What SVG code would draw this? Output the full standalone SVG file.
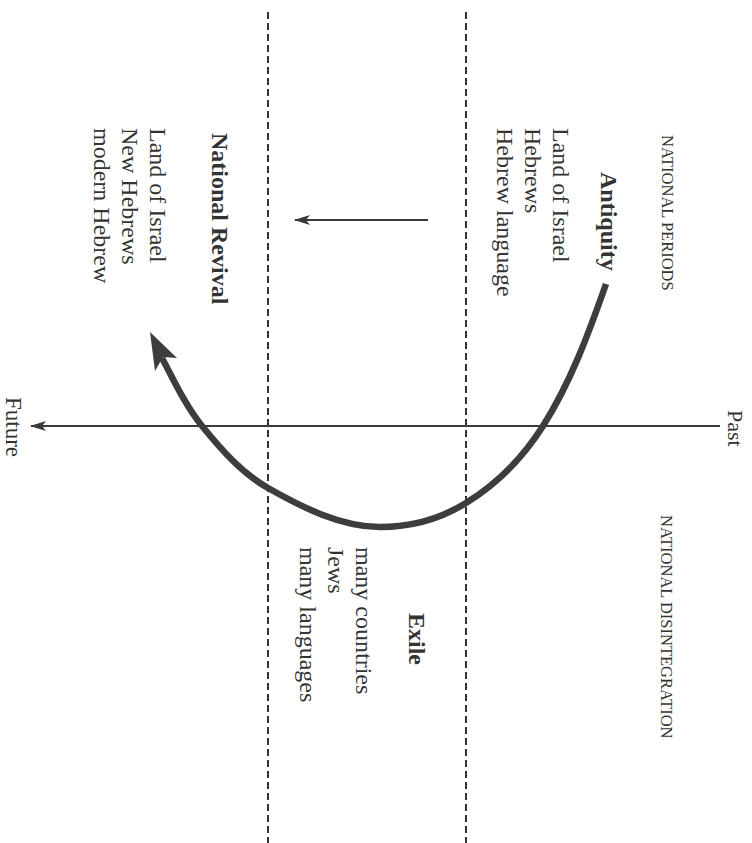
<svg xmlns="http://www.w3.org/2000/svg" width="752" height="843" viewBox="0 0 752 843">
<style>
text{font-family:"Liberation Serif","Times New Roman",serif;fill:#333}
.t{font-size:24px}
.b{font-size:24px;font-weight:bold}
.c{font-size:16.5px}
.dash{stroke:#333;stroke-width:2;stroke-dasharray:7 4;fill:none}
.ln{stroke:#3a3a3a;stroke-width:2.2;fill:none}
</style>
<defs>
<marker id="barb" viewBox="0 0 16 10" refX="15" refY="5" markerWidth="16" markerHeight="10" markerUnits="userSpaceOnUse" orient="auto">
<path d="M0,0 L16,5 L0,10 L4,5 Z" fill="#3a3a3a"/>
</marker>
</defs>
<rect width="752" height="843" fill="#fff"/>
<g id="dividers">
<line class="dash" x1="268" y1="12" x2="268" y2="843"/>
<line class="dash" x1="466" y1="12" x2="466" y2="843"/>
</g>
<g id="connectors">
<line class="ln" x1="720" y1="426" x2="31" y2="426" marker-end="url(#barb)"/>
<line class="ln" x1="428" y1="220" x2="295" y2="220" marker-end="url(#barb)"/>
<path d="M606,284 C588.8,332.9 570.8,382.1 543,426 C523.2,457.3 497.5,483.5 466,503 C440.5,518.8 410,527 380,527 C341,527 301.9,507.2 268,488 C241.9,473.2 221,449.3 202,426 C185.6,405.9 174.2,380.9 162,358" fill="none" stroke="#3d3d3d" stroke-width="6.5" stroke-linecap="butt"/>
<polygon points="150,332 177,358 163,357 155,371" fill="#3d3d3d"/>
</g>
<g id="axis-labels">
<text transform="translate(728,410) rotate(90)" style="font-size:22px">Past</text>
<text transform="translate(6,397) rotate(90)" style="font-size:23px">Future</text>
</g>
<g id="header-periods">
<text class="c" transform="translate(662,135) rotate(90)">NATIONAL PERIODS</text>
</g>
<g id="header-disintegration">
<text class="c" transform="translate(661,515) rotate(90)">NATIONAL DISINTEGRATION</text>
</g>
<g id="antiquity">
<text class="b" transform="translate(601,172) rotate(90)">Antiquity</text>
<text class="t" transform="translate(553,128) rotate(90)">Land of Israel</text>
<text class="t" transform="translate(525,128) rotate(90)">Hebrews</text>
<text class="t" transform="translate(497,128) rotate(90)">Hebrew language</text>
</g>
<g id="exile">
<text class="b" transform="translate(409,613) rotate(90)">Exile</text>
<text class="t" transform="translate(356,547) rotate(90)">many countries</text>
<text class="t" transform="translate(328,547) rotate(90)">Jews</text>
<text class="t" transform="translate(300,547) rotate(90)">many languages</text>
</g>
<g id="national-revival">
<text class="b" transform="translate(212,133) rotate(90)">National Revival</text>
<text class="t" transform="translate(150,128) rotate(90)">Land of Israel</text>
<text class="t" transform="translate(122,128) rotate(90)">New Hebrews</text>
<text class="t" transform="translate(94,128) rotate(90)">modern Hebrew</text>
</g>
</svg>
